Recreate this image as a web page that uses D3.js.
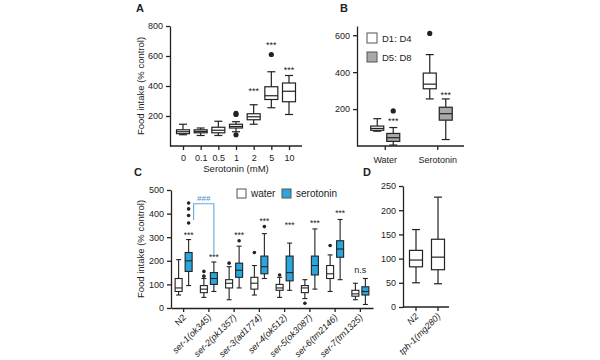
<!DOCTYPE html>
<html><head><meta charset="utf-8">
<script src="https://cdn.jsdelivr.net/npm/d3@7"></script>
<style>
body{margin:0;background:#fff;}
svg{display:block;font-family:"Liberation Sans",Arial,sans-serif;}
.axis path,.axis line{stroke:#222;stroke-width:1.3;}
.axis text{fill:#222;font-size:9px;}
</style></head><body>
<svg id="c" width="600" height="360"></svg>
<script>
// ---------- Data ----------
// Panel A: [min, Q1, median, Q3, max]
const concA = ["0","0.1","0.5","1","2","5","10"];
const boxA = [[75,82,95,108,145],[70,88,97,108,120],[70,88,105,125,165],[95,120,130,145,162],[145,175,195,215,275],[255,310,335,395,495],[210,295,365,420,470]];
const outA = [[],[],[],[217,210,75],[],[610],[]];
const sigA = ["","","","","***","***","***"];
const sigPosA = [0,0,0,0,377,690,517];
const tickA = [200,400,600,800];

// Panel B
const groupsB = ["Water","Serotonin"];
const seriesB = ["D1: D4","D5: D8"];
const boxB_D1 = [[80,85,95,108,148],[255,310,335,395,495]];
const boxB_D5 = [[5,25,45,68,100],[35,140,175,210,255]];
const outB_D1 = [[],[610]];
const outB_D5 = [[190],[]];
const sigB_D5 = ["***","***"];
const sigPosB_D5 = [147,286];
const tickB = [200,400,600];

// Panel C
const strainsC = ["N2","ser-1(ok345)","ser-2(pk1357)","ser-3(ad1774)","ser-4(ok512)","ser-5(ok3087)","ser-6(tm2146)","ser-7(tm1325)"];
const seriesC = ["water","serotonin"];
const waterC = [[55,70,85,125,205],[45,65,80,95,125],[35,85,105,120,175],[55,80,105,130,180],[45,75,85,100,130],[40,65,85,95,120],[70,125,145,180,225],[35,50,60,75,105]];
const waterOutC = [[],[155,135],[190],[235],[140],[20],[265],[]];
const seroC = [[95,155,200,235,290],[70,100,125,150,195],[85,130,160,190,262],[125,145,175,220,315],[75,115,150,220,275],[80,140,180,220,335],[120,215,250,285,375],[15,55,70,90,125]];
const seroOutC = [[445,420,392,360],[],[285],[345],[],[],[],[]];
const sigC = ["***","***","***","***","***","***","***","n.s"];
const sigPosC = [316,223,316,379,361,369,411,161];
const bracketC = {from:"N2", to:"ser-1(ok345)", top:442, leftEnd:373, rightEnd:229, label:"###"};
const tickC = [0,100,200,300,400,500];

// Panel D
const strainsD = ["N2","tph-1(mg280)"];
const boxD = [[50,83,97,117,160],[48,77,103,140,227]];
const tickD = [0,50,100,150,200,250];

// ---------- Helpers ----------
const svg = d3.select("#c");
const BLUE = "#2aa6dc", GRAY = "#a9a9a9", INK = "#222";

function drawBox(g, y, cx, w, s, fill, capW, sw){
  const [mn,q1,md,q3,mx] = s;
  const b = g.append("g").attr("stroke",INK).attr("stroke-width",sw||1.2).attr("fill","none");
  b.append("line").attr("x1",cx).attr("x2",cx).attr("y1",y(mx)).attr("y2",y(q3));
  b.append("line").attr("x1",cx).attr("x2",cx).attr("y1",y(q1)).attr("y2",y(mn));
  b.append("line").attr("x1",cx-capW/2).attr("x2",cx+capW/2).attr("y1",y(mx)).attr("y2",y(mx));
  b.append("line").attr("x1",cx-capW/2).attr("x2",cx+capW/2).attr("y1",y(mn)).attr("y2",y(mn));
  b.append("rect").attr("x",cx-w/2).attr("width",w).attr("y",y(q3)).attr("height",y(q1)-y(q3)).attr("fill",fill);
  b.append("line").attr("x1",cx-w/2).attr("x2",cx+w/2).attr("y1",y(md)).attr("y2",y(md));
}
function dots(g, y, cx, vals, r){
  vals.forEach(v=>g.append("circle").attr("cx",cx).attr("cy",y(v)).attr("r",r).attr("fill",INK));
}
function star(g, x, yy, txt, fs){
  g.append("text").attr("x",x).attr("y",yy+ (txt==="n.s"?3:5)).attr("text-anchor","middle")
   .attr("font-size",fs||9).attr("fill",INK).text(txt);
}
function panelLabel(txt,x,y){
  svg.append("text").attr("x",x).attr("y",y).attr("font-size",11).attr("font-weight","bold").attr("fill",INK).text(txt);
}
function yLabel(txt,x,yc){
  svg.append("text").attr("transform",`translate(${x},${yc}) rotate(-90)`).attr("text-anchor","middle")
    .attr("font-size",9.5).attr("fill",INK).text(txt);
}
function slantLabels(sel, fs, italicFn){
  sel.selectAll("text").attr("font-size",fs).attr("text-anchor","end")
    .attr("font-style",italicFn).attr("x",0).attr("y",0).attr("dy",0)
    .attr("transform","translate(3,10) rotate(-45)");
}

// ---------- Panel A ----------
{
  const y = d3.scaleLinear().domain([0,800]).range([146,26]);
  const x = d3.scalePoint().domain(concA).range([183,289]);
  const g = svg.append("g");
  g.append("g").attr("class","axis").attr("transform","translate(170,0)")
    .call(d3.axisLeft(y).tickValues(tickA).tickSize(4).tickSizeOuter(0));
  const xa = g.append("g").attr("class","axis").attr("transform","translate(0,146)")
    .call(d3.axisBottom(x).tickSize(4).tickSizeOuter(0));
  xa.select(".domain").attr("d","M170,0H302");
  xa.selectAll("text").attr("font-size",9.5).attr("dy","0.9em");
  concA.forEach((c,i)=>{
    drawBox(g,y,x(c),13,boxA[i],"#fff",8);
    dots(g,y,x(c),outA[i],2.6);
    if(sigA[i]) star(g,x(c),y(sigPosA[i]),sigA[i]);
  });
  svg.append("text").attr("x",236).attr("y",172).attr("text-anchor","middle").attr("font-size",9.5).attr("fill",INK).text("Serotonin (mM)");
  yLabel("Food intake (% control)",144,86);
  panelLabel("A",136,12);
}

// ---------- Panel B ----------
{
  const y = d3.scaleLinear().domain([0,650]).range([146,26]);
  const x = d3.scaleBand().domain(groupsB).range([359,464]);
  const off = 8;
  const g = svg.append("g");
  g.append("g").attr("class","axis").attr("transform","translate(357,0)")
    .call(d3.axisLeft(y).tickValues(tickB).tickSize(4).tickSizeOuter(0));
  const xa = g.append("g").attr("class","axis").attr("transform","translate(0,146)")
    .call(d3.axisBottom(x).tickSize(4).tickSizeOuter(0));
  xa.select(".domain").attr("d","M357,0H464");
  xa.selectAll("text").attr("font-size",9.5).attr("dy","1.1em");
  groupsB.forEach((grp,i)=>{
    const cx = x(grp)+x.bandwidth()/2;
    drawBox(g,y,cx-off,13,boxB_D1[i],"#fff",8);
    dots(g,y,cx-off,outB_D1[i],2.6);
    drawBox(g,y,cx+off,13,boxB_D5[i],GRAY,8);
    dots(g,y,cx+off,outB_D5[i],2.6);
    star(g,cx+off,y(sigPosB_D5[i]),sigB_D5[i]);
  });
  const lg = svg.append("g");
  [["#fff",33],[GRAY,52]].forEach(([f,yy],k)=>{
    lg.append("rect").attr("x",367).attr("y",yy).attr("width",10).attr("height",10).attr("fill",f).attr("stroke","#555").attr("stroke-width",1);
    lg.append("text").attr("x",382).attr("y",yy+8.5).attr("font-size",9.5).attr("fill",INK).text(seriesB[k]);
  });
  panelLabel("B",340,12);
}

// ---------- Panel C ----------
{
  const y = d3.scaleLinear().domain([0,500]).range([308,190]);
  const x = d3.scaleBand().domain(strainsC).range([171,373]);
  const off = 5;
  const g = svg.append("g");
  g.append("g").attr("class","axis").attr("transform","translate(171,0)")
    .call(d3.axisLeft(y).tickValues(tickC).tickSize(4).tickSizeOuter(0));
  const xa = g.append("g").attr("class","axis").attr("transform","translate(0,308)")
    .call(d3.axisBottom(x).tickSize(4).tickSizeOuter(0));
  slantLabels(xa, 8, d=>d==="N2"?"normal":"italic");
  strainsC.forEach((s,i)=>{
    const cx = x(s)+x.bandwidth()/2;
    drawBox(g,y,cx-off,7,waterC[i],"#fff",5,1.1);
    dots(g,y,cx-off,waterOutC[i],1.8);
    drawBox(g,y,cx+off,7,seroC[i],BLUE,5,1.1);
    dots(g,y,cx+off,seroOutC[i],1.8);
    star(g, sigC[i]==="n.s"?cx:cx+off, y(sigPosC[i]), sigC[i], sigC[i]==="n.s"?9:8.5);
  });
  // bracket
  const xl = x(bracketC.from)+x.bandwidth()/2+off+5, xr = x(bracketC.to)+x.bandwidth()/2+off;
  g.append("path").attr("fill","none").attr("stroke","#6aa6d6").attr("stroke-width",1.1)
    .attr("d",`M${xl},${y(bracketC.leftEnd)}V${y(bracketC.top)}H${xr}V${y(bracketC.rightEnd)}`);
  g.append("text").attr("x",(xl+xr)/2).attr("y",y(bracketC.top)-3).attr("text-anchor","middle")
    .attr("font-size",8).attr("fill","#4a90c8").text(bracketC.label);
  // legend
  const lg = svg.append("g");
  [["#fff",237],[BLUE,282]].forEach(([f,xx],k)=>{
    lg.append("rect").attr("x",xx).attr("y",189).attr("width",9).attr("height",9).attr("fill",f).attr("stroke","#555").attr("stroke-width",1);
    lg.append("text").attr("x",xx+14).attr("y",197).attr("font-size",10).attr("fill",INK).text(seriesC[k]);
  });
  yLabel("Food intake (% control)",144,249);
  panelLabel("C",134,176);
}

// ---------- Panel D ----------
{
  const y = d3.scaleLinear().domain([0,250]).range([307,186]);
  const x = d3.scaleBand().domain(strainsD).range([405,449]);
  const g = svg.append("g");
  g.append("g").attr("class","axis").attr("transform","translate(403,0)")
    .call(d3.axisLeft(y).tickValues(tickD).tickSize(4).tickSizeOuter(0));
  const xa = g.append("g").attr("class","axis").attr("transform","translate(0,307)")
    .call(d3.axisBottom(x).tickSize(4).tickSizeOuter(0));
  xa.select(".domain").attr("d","M403,0H449");
  slantLabels(xa, 8, ()=>"italic");
  strainsD.forEach((s,i)=>{
    const cx = x(s)+x.bandwidth()/2;
    drawBox(g,y,cx,13,boxD[i],"#fff",8);
  });
  panelLabel("D",363,176);
}
</script></body></html>
